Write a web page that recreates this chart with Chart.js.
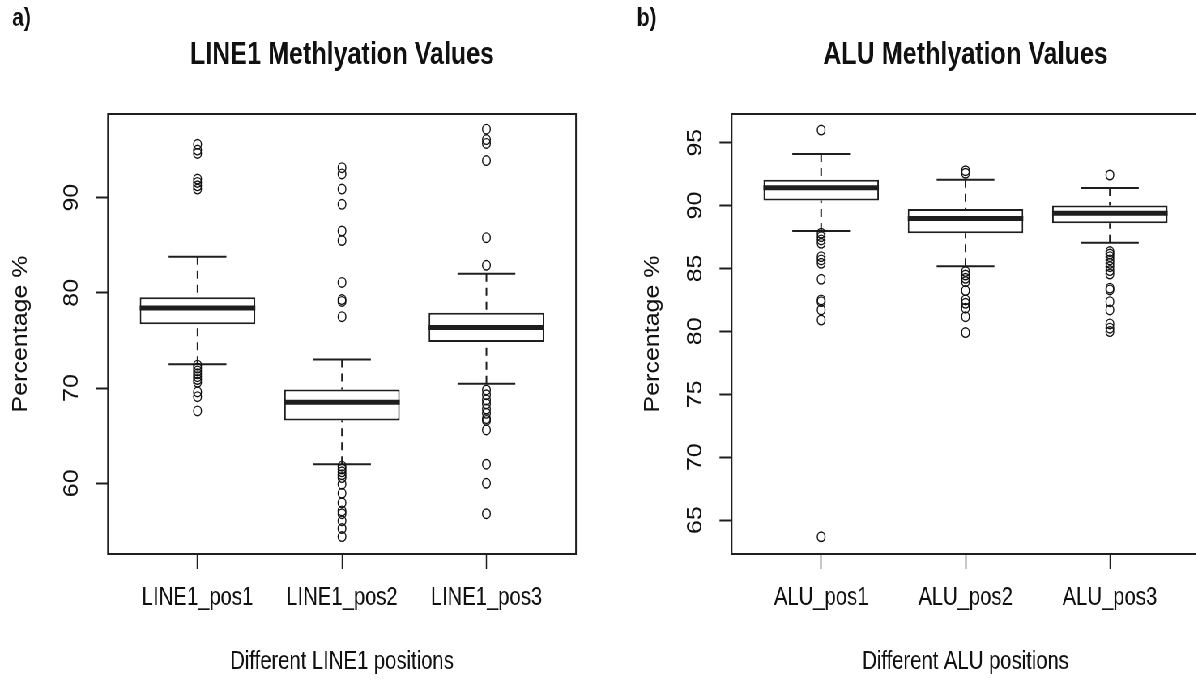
<!DOCTYPE html>
<html>
<head>
<meta charset="utf-8">
<script src="https://cdn.jsdelivr.net/npm/chart.js@4/dist/chart.umd.min.js"></script>
<style>
html, body { margin: 0; padding: 0; background: #fff; overflow: hidden; width: 1196px; height: 681px; }
/* the original R figure was squeezed horizontally, so draw wide and squeeze */
#wrap { position: absolute; left: 0; top: 0; width: 1500px; height: 681px; transform: scaleX(0.81); transform-origin: 0 0; }
#wrap canvas { position: absolute; top: 0; }
</style>
</head>
<body>
<div id="wrap">
  <canvas id="line1Chart" width="780" height="681" style="left:0"></canvas>
  <canvas id="aluChart" width="720" height="681" style="left:780px"></canvas>
</div>
<script>
// ---- LINE1 panel ----
const line1Labels = ['LINE1_pos1', 'LINE1_pos2', 'LINE1_pos3'];
const line1Low = [72.5, 62.0, 70.45];
const line1Q1 = [76.7, 66.6, 74.85];
const line1Median = [78.4, 68.5, 76.35];
const line1Q3 = [79.55, 69.85, 77.9];
const line1High = [83.8, 73.0, 82.0];
const line1Outliers = [
  [95.6, 95.0, 94.65, 91.95, 91.6, 91.25, 90.9, 72.4, 72.1, 71.8, 71.5, 71.2, 70.9, 70.6, 69.6, 69.1, 67.6],
  [93.15, 92.5, 90.9, 89.3, 86.5, 85.5, 81.1, 79.3, 79.1, 77.5,
   61.8, 61.5, 61.2, 60.9, 60.6, 59.9, 58.95, 57.95, 57.1, 56.8, 56.05, 55.25, 54.4],
  [97.2, 96.1, 95.7, 93.9, 85.8, 82.9,
   69.8, 69.3, 68.75, 68.35, 67.8, 67.35, 66.8, 66.6, 65.6, 62.0, 60.0, 56.8]
];
const line1Ticks = [60, 70, 80, 90];
const line1Range = [52.57, 98.79];

// ---- ALU panel ----
const aluLabels = ['ALU_pos1', 'ALU_pos2', 'ALU_pos3'];
const aluLow = [87.98, 85.17, 87.05];
const aluQ1 = [90.4, 87.8, 88.59];
const aluMedian = [91.42, 88.97, 89.39];
const aluQ3 = [92.05, 89.73, 90.0];
const aluHigh = [94.1, 92.05, 91.4];
const aluOutliers = [
  [96.0, 87.8, 87.53, 87.27, 87.0, 85.94, 85.68, 85.41, 84.14, 82.5, 82.36, 81.7, 80.9, 63.67],
  [92.77, 92.57, 84.75, 84.48, 84.22, 83.95, 83.24, 82.5, 82.23, 81.84, 81.17, 79.9],
  [92.43, 86.34, 86.15, 85.94, 85.68, 85.41, 85.14, 84.83, 84.56, 83.43, 83.29, 82.36, 81.7, 80.59, 80.25, 79.98]
];
const aluTicks = [65, 70, 75, 80, 85, 90, 95];
const aluRange = [62.30, 97.28];

const FONT = "'Liberation Sans', Arial, Helvetica, sans-serif";
const INK = '#111';
const LINE = '#1e1e1e';
Chart.defaults.font.family = FONT;
Chart.defaults.color = INK;

// whiskers, caps, medians, frame, rotated y labels and panel tag
const boxParts = {
  id: 'boxParts',
  afterDatasetDraw(chart, args, opts) {
    if (args.index !== 0) return;
    const {ctx} = chart;
    const xs = chart.scales.x, ys = chart.scales.y;
    const bars = chart.getDatasetMeta(0).data;
    ctx.save();
    ctx.strokeStyle = LINE;
    opts.median.forEach((m, i) => {
      const cx = xs.getPixelForValue(i + 1);
      const half = xs.getPixelForValue(i + 1.2) - cx;
      ctx.lineWidth = 2;
      ctx.setLineDash([8, 6]);
      ctx.beginPath();
      ctx.moveTo(cx, ys.getPixelForValue(opts.high[i]));
      ctx.lineTo(cx, ys.getPixelForValue(opts.q3[i]));
      ctx.moveTo(cx, ys.getPixelForValue(opts.low[i]));
      ctx.lineTo(cx, ys.getPixelForValue(opts.q1[i]));
      ctx.stroke();
      ctx.setLineDash([]);
      ctx.beginPath();
      [opts.high[i], opts.low[i]].forEach(v => {
        const py = ys.getPixelForValue(v);
        ctx.moveTo(cx - half, py);
        ctx.lineTo(cx + half, py);
      });
      ctx.stroke();
      const b = bars[i];
      ctx.lineWidth = 5;
      ctx.beginPath();
      ctx.moveTo(b.x - b.width / 2, ys.getPixelForValue(m));
      ctx.lineTo(b.x + b.width / 2, ys.getPixelForValue(m));
      ctx.stroke();
    });
    ctx.restore();
  },
  afterDraw(chart, args, opts) {
    const {ctx, chartArea: a} = chart;
    const ys = chart.scales.y;
    ctx.save();
    ctx.strokeStyle = LINE;
    ctx.lineWidth = 2;
    ctx.strokeRect(a.left, a.top, a.right - a.left, a.bottom - a.top);
    ctx.fillStyle = INK;
    ctx.font = '25px ' + FONT;
    ctx.textAlign = 'center';
    ctx.textBaseline = 'middle';
    ys.ticks.forEach(t => {
      ctx.save();
      ctx.translate(a.left - 44, ys.getPixelForValue(t.value));
      ctx.rotate(-Math.PI / 2);
      ctx.fillText(String(t.value), 0, 0);
      ctx.restore();
    });
    ctx.font = 'bold 26px ' + FONT;
    ctx.textAlign = 'left';
    ctx.fillText(opts.tag, opts.tagX, 19);
    ctx.restore();
  }
};

function makePanel(id, cfg) {
  const boxes = cfg.q1.map((q, i) => ({x: i + 1, y: [q, cfg.q3[i]]}));
  const points = [];
  cfg.outliers.forEach((list, i) => list.forEach(v => points.push({x: i + 1, y: v})));

  return new Chart(document.getElementById(id), {
    type: 'bar',
    data: {
      datasets: [{
        data: boxes,
        backgroundColor: '#fff',
        borderColor: LINE,
        borderWidth: 2,
        borderSkipped: false,
        categoryPercentage: 0.8,
        barPercentage: 1,
        order: 1
      }, {
        type: 'scatter',
        data: points,
        pointStyle: 'circle',
        pointRadius: 4.8,
        pointBorderWidth: 1.4,
        pointBorderColor: '#111',
        pointBackgroundColor: 'rgba(0,0,0,0)',
        order: 0
      }]
    },
    options: {
      responsive: false,
      animation: false,
      events: [],
      layout: {padding: {left: 0, right: cfg.padRight, top: 0, bottom: 0}},
      plugins: {
        legend: {display: false},
        tooltip: {enabled: false},
        title: {
          display: true,
          text: cfg.title,
          fullSize: false,
          color: INK,
          font: {size: 31, weight: 'bold', lineHeight: 1.2},
          padding: {top: 36.4, bottom: 40.4}
        },
        boxParts: {
          low: cfg.low, q1: cfg.q1, median: cfg.median, q3: cfg.q3, high: cfg.high,
          tag: cfg.tag, tagX: cfg.tagX
        }
      },
      scales: {
        x: {
          type: 'linear',
          min: 0.38,
          max: 3.62,
          offset: false,
          afterBuildTicks: s => { s.ticks = cfg.labels.map((l, i) => ({value: i + 1})); },
          afterFit: s => { s.height = 127; },
          ticks: {
            callback: v => cfg.labels[v - 1],
            font: {size: 25},
            color: INK,
            padding: 14,
            maxRotation: 0
          },
          grid: {drawOnChartArea: false, offset: false, tickLength: 15, tickWidth: 1.5, color: LINE},
          border: {display: false},
          title: {display: true, text: cfg.xTitle, font: {size: 25}, color: INK, padding: {top: 0, bottom: 4}}
        },
        y: {
          min: cfg.range[0],
          max: cfg.range[1],
          afterBuildTicks: s => { s.ticks = cfg.ticks.map(v => ({value: v})); },
          afterFit: s => { s.width = cfg.yWidth; },
          ticks: {display: false},
          grid: {drawOnChartArea: false, tickLength: 15, tickWidth: 2, color: LINE},
          border: {display: false},
          title: {display: true, text: 'Percentage %', font: {size: 25}, color: INK, padding: {top: 11, bottom: 0}}
        }
      }
    },
    plugins: [boxParts]
  });
}

makePanel('line1Chart', {
  labels: line1Labels, low: line1Low, q1: line1Q1, median: line1Median, q3: line1Q3, high: line1High,
  outliers: line1Outliers, ticks: line1Ticks, range: line1Range,
  title: 'LINE1 Methlyation Values', xTitle: 'Different LINE1 positions',
  tag: 'a)', tagX: 15, yWidth: 133.3, padRight: 68.9
});

makePanel('aluChart', {
  labels: aluLabels, low: aluLow, q1: aluQ1, median: aluMedian, q3: aluQ3, high: aluHigh,
  outliers: aluOutliers, ticks: aluTicks, range: aluRange,
  title: 'ALU Methlyation Values', xTitle: 'Different ALU positions',
  tag: 'b)', tagX: 6, yWidth: 123.3, padRight: 19.3
});
</script>
</body>
</html>
